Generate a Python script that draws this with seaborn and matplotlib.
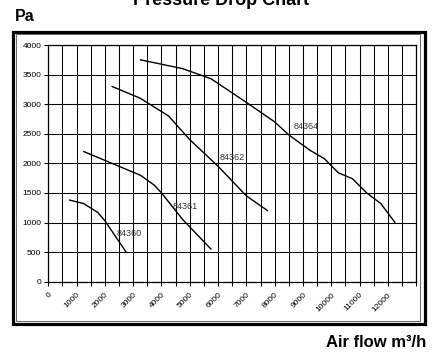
import matplotlib
matplotlib.use("Agg")
import matplotlib.pyplot as plt
from matplotlib.patches import Rectangle
from matplotlib.ticker import MultipleLocator
import numpy as np
import pandas as pd
import seaborn as sns

# Fan models and their pressure-drop curves (air flow m³/h -> Pa)
models = ["84360", "84361", "84362", "84364"]

flow_84360 = [750, 1250, 1750, 2000, 2750]
pa_84360 = [1380, 1320, 1170, 1030, 500]

flow_84361 = [1250, 2200, 3250, 3750, 4000, 4750, 5750]
pa_84361 = [2200, 2010, 1800, 1630, 1500, 1050, 550]

flow_84362 = [2250, 3250, 4250, 5000, 6000, 7000, 7750]
pa_84362 = [3300, 3100, 2800, 2400, 1950, 1450, 1200]

flow_84364 = [3250, 4750, 5750, 7000, 8000, 8500, 9250, 9750, 10250,
              10750, 11250, 11750, 12250]
pa_84364 = [3750, 3600, 3430, 3030, 2700, 2480, 2220, 2080, 1840,
            1740, 1500, 1320, 1000]

# Where each model's name is written beside its curve
label_flow = [2850, 4840, 6490, 9120]
label_pa = [810, 1270, 2100, 2630]

x_ticks = list(range(0, 13000, 1000))
y_ticks = list(range(0, 4001, 500))

frames = []
for name, fx, py in [("84360", flow_84360, pa_84360),
                     ("84361", flow_84361, pa_84361),
                     ("84362", flow_84362, pa_84362),
                     ("84364", flow_84364, pa_84364)]:
    frames.append(pd.DataFrame({"flow": fx, "pa": py, "model": name}))
df = pd.concat(frames, ignore_index=True)

sns.set_style("white")
plt.rcParams["font.family"] = ["Liberation Sans", "DejaVu Sans"]
plt.rcParams["text.color"] = "black"
plt.rcParams["xtick.labelcolor"] = "black"
plt.rcParams["ytick.labelcolor"] = "black"

W, H = 435, 352
fig = plt.figure(figsize=(W / 100, H / 100), dpi=100)
fig.patch.set_facecolor("white")

left, right, top, bottom = 48.3, 416.2, 45.0, 281.7
ax = fig.add_axes([left / W, (H - bottom) / H, (right - left) / W, (bottom - top) / H])

sns.lineplot(data=df, x="flow", y="pa", hue="model", units="model",
             estimator=None, sort=False, palette=["black"] * 4,
             linewidth=1.0, legend=False, ax=ax)

for name, lx, ly in zip(models, label_flow, label_pa):
    ax.text(lx, ly, name, fontsize=6.5, ha="center", va="center",
            color="#333333")

ax.set_xlim(0, 13000)
ax.set_ylim(0, 4000)
ax.set_xticks(x_ticks)
ax.set_xticklabels([str(v) for v in x_ticks], rotation=45, ha="right",
                   va="top", rotation_mode="anchor", fontsize=6)
ax.xaxis.set_minor_locator(MultipleLocator(500))
ax.set_yticks(y_ticks)
ax.set_yticklabels([str(v) for v in y_ticks], fontsize=6)

ax.grid(True, which="both", axis="x", color="black", linewidth=0.75)
ax.grid(True, which="major", axis="y", color="black", linewidth=0.75)
ax.tick_params(axis="both", which="both", direction="out", length=3,
               width=0.75, color="black", pad=2, bottom=True, left=True)
ax.tick_params(axis="x", which="major", pad=4)
for side, sp in ax.spines.items():
    sp.set_color("black")
    sp.set_linewidth(0.9)
ax.set_xlabel("")
ax.set_ylabel("")

# Double frame round the plot area
fig.patches.append(Rectangle((13 / W, (H - 324) / H), (425 - 13) / W, (324 - 31.5) / H,
                             transform=fig.transFigure, fill=False,
                             linewidth=2.3, edgecolor="black"))
fig.patches.append(Rectangle((15.8 / W, (H - 321) / H), (420.5 - 15.8) / W, (321 - 34.3) / H,
                             transform=fig.transFigure, fill=False,
                             linewidth=0.7, edgecolor="#666666"))

fig.text(220.8 / W, (H - 5) / H, "Pressure Drop Chart", fontsize=13,
         fontweight="bold", ha="center", va="baseline", color="black")
fig.text(15 / W, (H - 20.7) / H, "Pa", fontsize=11.5, fontweight="bold",
         ha="left", va="baseline", color="black")
fig.text(426.7 / W, (H - 346.7) / H, "Air flow m³/h", fontsize=12,
         fontweight="bold", ha="right", va="baseline", color="black")

fig.savefig("out.png", dpi=100)
